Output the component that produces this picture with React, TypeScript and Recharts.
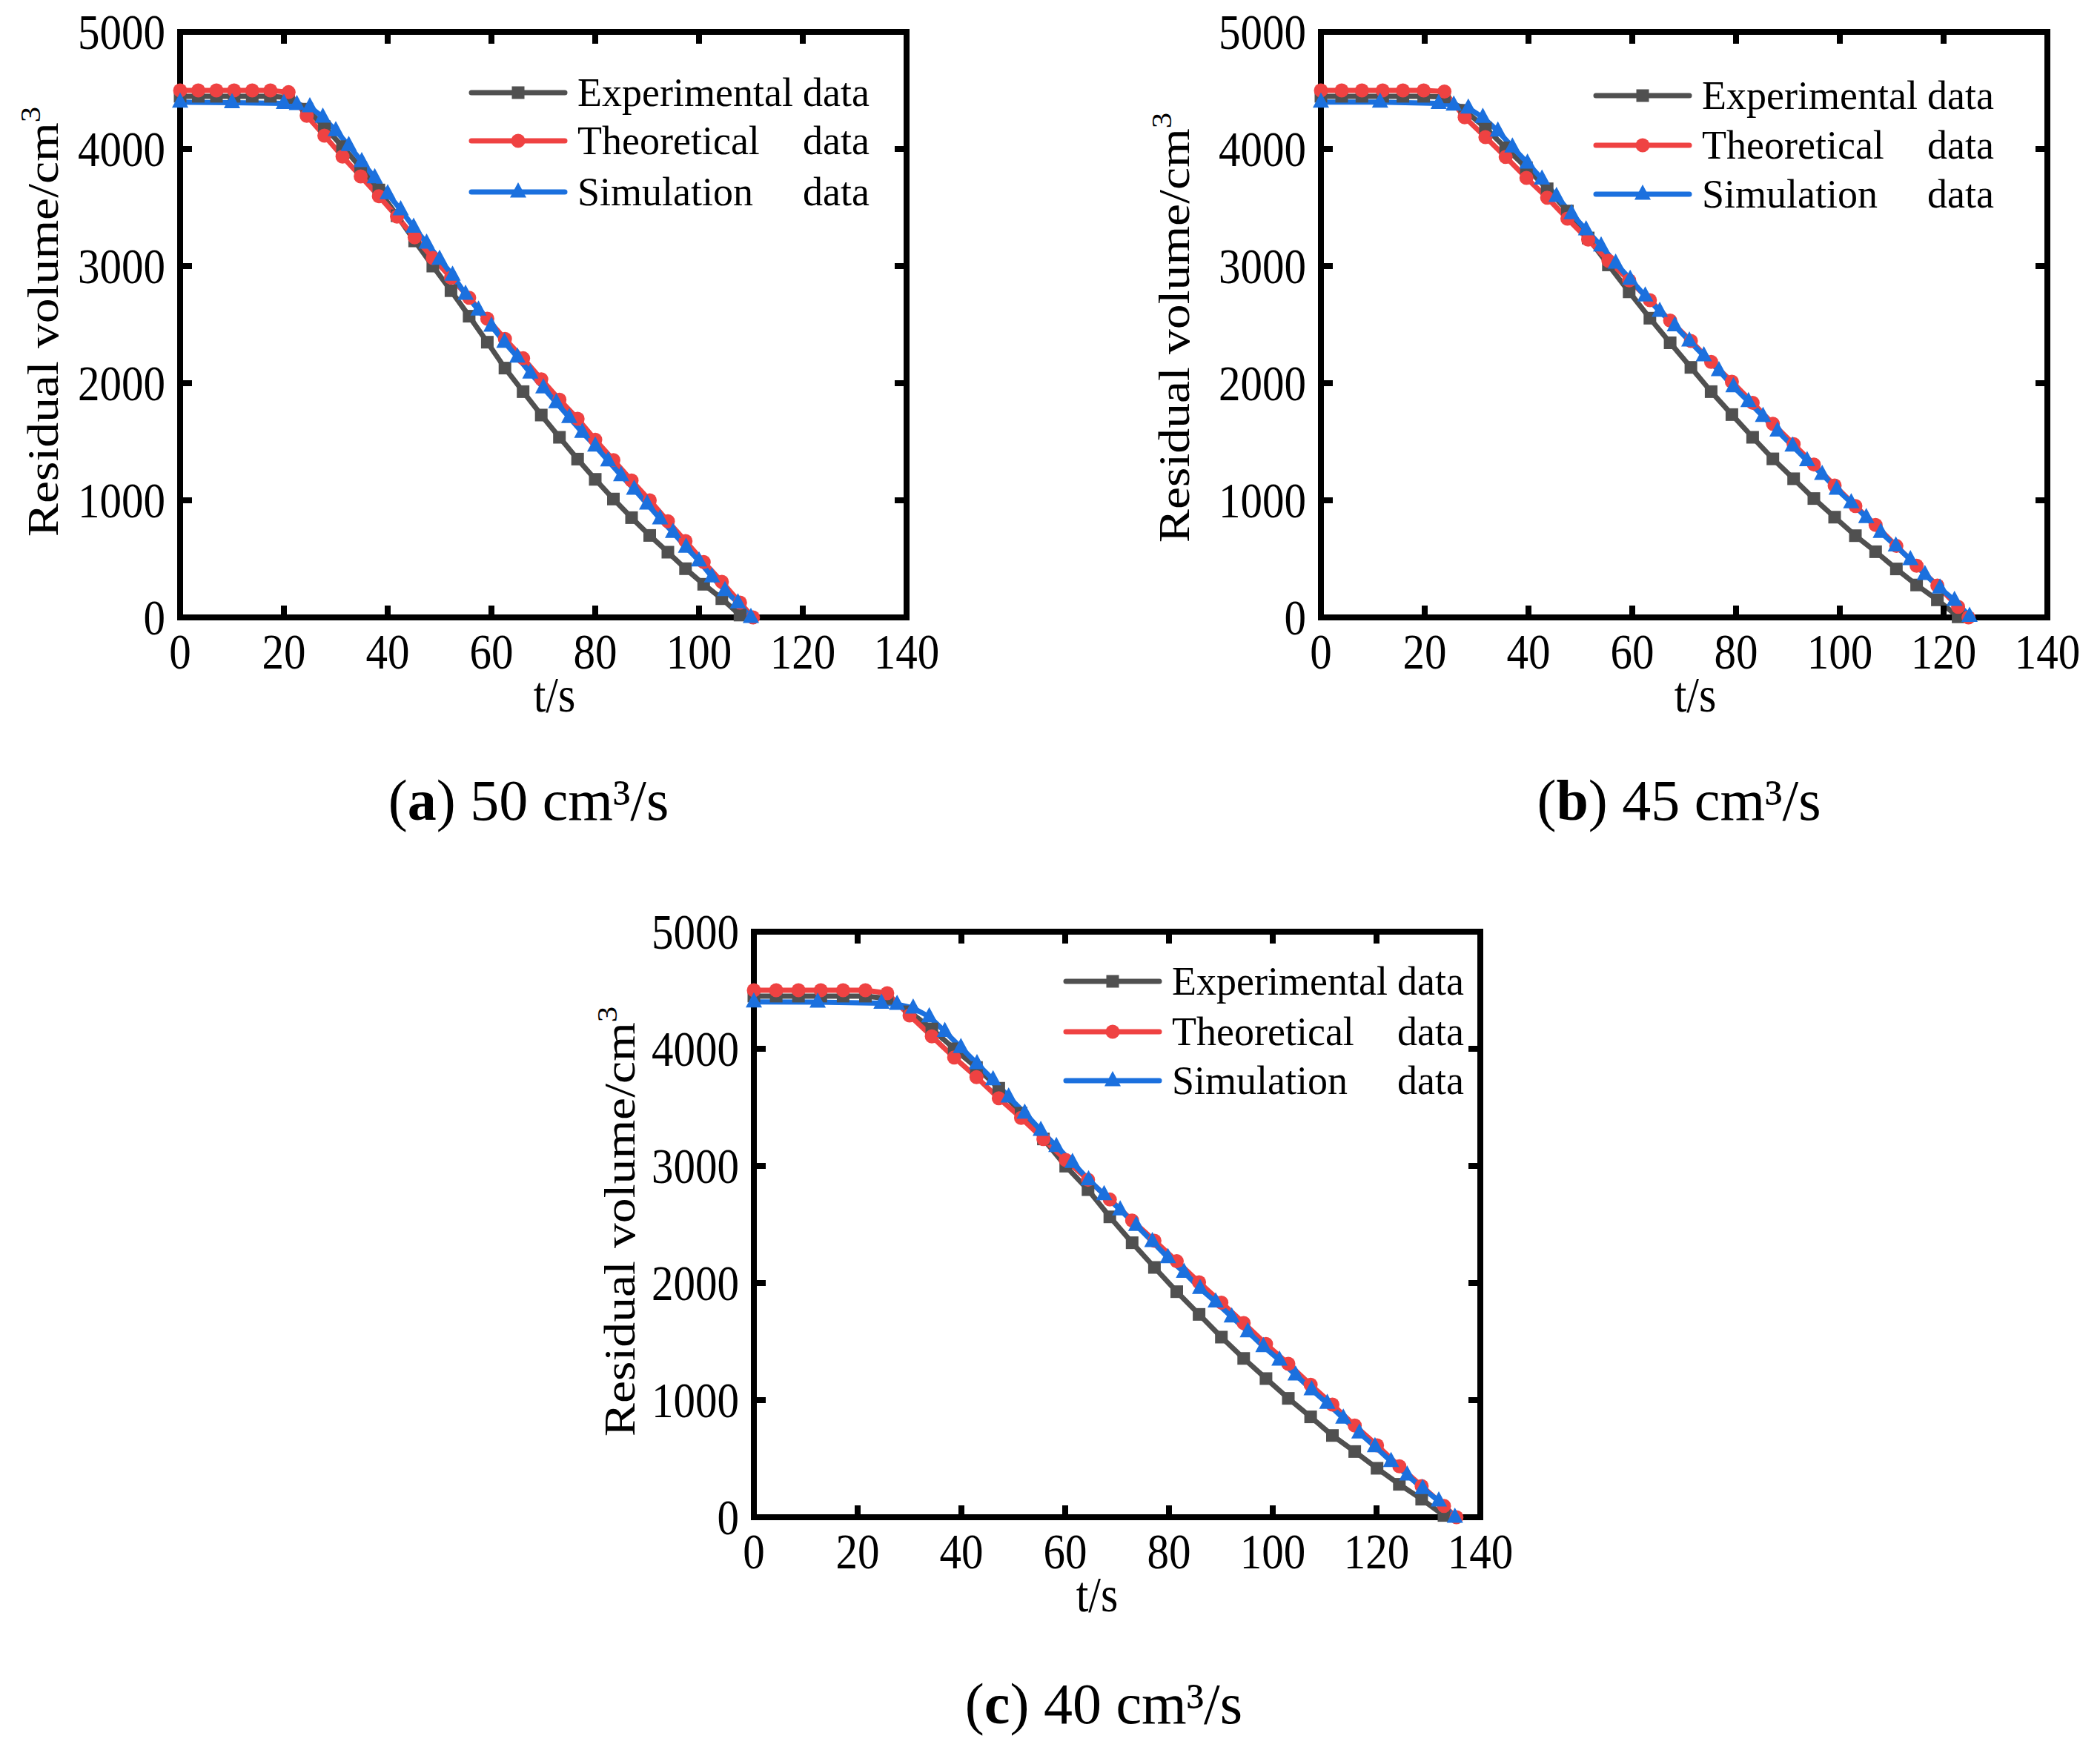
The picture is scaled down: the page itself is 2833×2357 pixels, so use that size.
import React from 'react';
import { LineChart, Line, XAxis, YAxis, ReferenceArea } from 'recharts';

// ---------------- data ----------------
const X_TICKS = [0, 20, 40, 60, 80, 100, 120, 140];
const Y_TICKS = [0, 1000, 2000, 3000, 4000, 5000];

// (a) 50 cm3/s
const EXP_A_T = [0, 3.5, 7, 10.4, 13.9, 17.4, 20.9, 24.4, 27.8, 31.3, 34.8, 38.3, 41.8, 45.2, 48.7, 52.2, 55.7, 59.2, 62.6, 66.1, 69.6, 73.1, 76.6, 80, 83.5, 87, 90.5, 94, 97.4, 100.9, 104.4, 107.9];
const EXP_A_V = [4450, 4450, 4450, 4450, 4450, 4450, 4440, 4340, 4190, 4020, 3840, 3650, 3430, 3215, 3000, 2790, 2572, 2350, 2129, 1928, 1728, 1538, 1352, 1179, 1011, 852, 700, 557, 416, 283, 160, 20];
const THEO_A_T = [0, 3.5, 7, 10.4, 13.9, 17.4, 20.9, 24.4, 27.8, 31.3, 34.8, 38.3, 41.8, 45.2, 48.7, 52.2, 55.7, 59.2, 62.6, 66.1, 69.6, 73.1, 76.6, 80, 83.5, 87, 90.5, 94, 97.4, 100.9, 104.4, 107.9, 110.4];
const THEO_A_V = [4500, 4500, 4500, 4500, 4500, 4500, 4485, 4283, 4114, 3935, 3766, 3597, 3422, 3245, 3070, 2901, 2730, 2551, 2378, 2213, 2034, 1859, 1696, 1517, 1344, 1169, 1000, 821, 652, 473, 304, 127, 0];
const SIM_A_T = [0, 10, 20, 22.5, 25, 27.5, 30, 32.5, 35, 37.5, 40, 42.5, 45, 47.5, 50, 52.5, 55, 57.5, 60, 62.5, 65, 67.5, 70, 72.5, 75, 77.5, 80, 82.5, 85, 87.5, 90, 92.5, 95, 97.5, 100, 102.5, 105, 107.5, 110];
const SIM_A_V = [4400, 4395, 4390, 4380, 4360, 4272, 4156, 4030, 3892, 3755, 3618, 3481, 3333, 3196, 3059, 2922, 2760, 2625, 2487, 2350, 2223, 2087, 1960, 1834, 1707, 1580, 1464, 1337, 1211, 1095, 968, 842, 726, 599, 483, 346, 230, 125, 0];

// (b) 45 cm3/s
const EXP_B_T = [0, 4, 7.9, 11.9, 15.8, 19.8, 23.8, 27.7, 31.7, 35.6, 39.6, 43.6, 47.5, 51.5, 55.4, 59.4, 63.4, 67.3, 71.3, 75.2, 79.2, 83.2, 87.1, 91.1, 95, 99, 103, 106.9, 110.9, 114.8, 118.8, 122.8];
const EXP_B_V = [4450, 4450, 4450, 4450, 4450, 4450, 4445, 4330, 4180, 4010, 3840, 3660, 3470, 3240, 3010, 2780, 2555, 2345, 2135, 1928, 1732, 1538, 1354, 1184, 1015, 856, 698, 561, 414, 277, 150, 5];
const THEO_B_T = [0, 4, 7.9, 11.9, 15.8, 19.8, 23.8, 27.7, 31.7, 35.6, 39.6, 43.6, 47.5, 51.5, 55.4, 59.4, 63.4, 67.3, 71.3, 75.2, 79.2, 83.2, 87.1, 91.1, 95, 99, 103, 106.9, 110.9, 114.8, 118.8, 122.8, 124.8];
const THEO_B_V = [4500, 4500, 4500, 4500, 4500, 4500, 4490, 4270, 4101, 3932, 3753, 3584, 3405, 3226, 3046, 2878, 2709, 2535, 2361, 2182, 2013, 1833, 1654, 1479, 1306, 1127, 951, 789, 610, 441, 272, 90, 0];
const SIM_B_T = [0, 11.4, 22.7, 25.6, 28.4, 31.2, 34.1, 36.9, 39.8, 42.6, 45.4, 48.3, 51.1, 54, 56.8, 59.6, 62.5, 65.3, 68.2, 71, 73.8, 76.7, 79.5, 82.4, 85.2, 88, 90.9, 93.7, 96.6, 99.4, 102.2, 105.1, 107.9, 110.8, 113.6, 116.4, 119.3, 122.1, 125];
const SIM_B_V = [4400, 4400, 4390, 4375, 4350, 4270, 4154, 4017, 3880, 3743, 3595, 3447, 3310, 3173, 3025, 2888, 2745, 2614, 2490, 2361, 2234, 2108, 1970, 1844, 1717, 1591, 1464, 1338, 1222, 1095, 979, 853, 726, 610, 494, 367, 251, 146, 10];

// (c) 40 cm3/s
const EXP_C_T = [0, 4.3, 8.6, 12.9, 17.2, 21.5, 25.7, 30, 34.3, 38.6, 42.9, 47.2, 51.5, 55.8, 60.1, 64.4, 68.6, 72.9, 77.2, 81.5, 85.8, 90.1, 94.4, 98.7, 103, 107.3, 111.5, 115.8, 120.1, 124.4, 128.7, 133];
const EXP_C_V = [4450, 4450, 4450, 4450, 4450, 4450, 4430, 4316, 4170, 4000, 3840, 3663, 3450, 3230, 2998, 2797, 2565, 2344, 2133, 1926, 1732, 1538, 1356, 1184, 1015, 857, 698, 561, 418, 281, 154, 15];
const THEO_C_T = [0, 4.3, 8.6, 12.9, 17.2, 21.5, 25.7, 30, 34.3, 38.6, 42.9, 47.2, 51.5, 55.8, 60.1, 64.4, 68.6, 72.9, 77.2, 81.5, 85.8, 90.1, 94.4, 98.7, 103, 107.3, 111.5, 115.8, 120.1, 124.4, 128.7, 133, 135.4];
const THEO_C_V = [4500, 4500, 4500, 4500, 4500, 4500, 4475, 4285, 4106, 3926, 3758, 3578, 3410, 3230, 3051, 2882, 2713, 2534, 2361, 2186, 2006, 1833, 1658, 1479, 1310, 1131, 962, 783, 614, 435, 266, 97, 0];
const SIM_C_T = [0, 12.3, 24.6, 27.6, 30.7, 33.8, 36.8, 39.9, 43, 46.1, 49.1, 52.2, 55.3, 58.3, 61.4, 64.5, 67.5, 70.6, 73.7, 76.8, 79.8, 82.9, 86, 89, 92.1, 95.2, 98.2, 101.3, 104.4, 107.5, 110.5, 113.6, 116.7, 119.7, 122.8, 125.9, 128.9, 132, 135.1];
const SIM_C_V = [4400, 4398, 4390, 4380, 4348, 4274, 4148, 4011, 3873, 3736, 3589, 3451, 3304, 3166, 3030, 2882, 2755, 2625, 2492, 2354, 2217, 2091, 1954, 1838, 1711, 1584, 1458, 1342, 1215, 1089, 973, 846, 720, 603, 477, 361, 245, 139, 0];

const SERIES_NAMES = ['Experimental', 'Theoretical', 'Simulation'];
const CAPTIONS = [
  { letter: 'a', rate: '50' },
  { letter: 'b', rate: '45' },
  { letter: 'c', rate: '40' },
];

// ---------------- styling / layout ----------------
const FONT = '"Liberation Serif", "Times New Roman", Times, serif';
const GRAY = '#505050';
const RED = '#ef4242';
const BLUE = '#1b70de';
const PLOT_W = 980;
const PLOT_H = 790;
const Y_AXIS_W = 200;
const X_AXIS_H = 100;
const M = { top: 40, right: 80, bottom: 100, left: 0 };
const CHART_W = M.left + Y_AXIS_W + PLOT_W + M.right;
const CHART_H = M.top + PLOT_H + X_AXIS_H + M.bottom;
const STRETCH = 1.13;
const LW = 7;

const zip = (ts: number[], vs: number[]) => ts.map((t, i) => ({ t, v: vs[i] }));

const PANELS = [
  {
    plotLeft: 243, plotTop: 43,
    exp: zip(EXP_A_T, EXP_A_V), theo: zip(THEO_A_T, THEO_A_V), sim: zip(SIM_A_T, SIM_A_V),
    legX: 393, legRows: [82, 147, 216], ylabX: 78, ylabDy: -4, tsDx: 15,
    capX: 713, capY: 1106, cap: CAPTIONS[0],
  },
  {
    plotLeft: 1782, plotTop: 43,
    exp: zip(EXP_B_T, EXP_B_V), theo: zip(THEO_B_T, THEO_B_V), sim: zip(SIM_B_T, SIM_B_V),
    legX: 371, legRows: [86, 153, 219], ylabX: 1604, ylabDy: 4, tsDx: 15,
    capX: 2265, capY: 1106, cap: CAPTIONS[1],
  },
  {
    plotLeft: 1017, plotTop: 1257,
    exp: zip(EXP_C_T, EXP_C_V), theo: zip(THEO_C_T, THEO_C_V), sim: zip(SIM_C_T, SIM_C_V),
    legX: 421, legRows: [67, 135, 201], ylabX: 856, ylabDy: -4, tsDx: -27,
    capX: 1489, capY: 2325, cap: CAPTIONS[2],
  },
];

// ---------------- marks ----------------
const SQ = 17;
const CR = 9.5;
const squareDot = (p: any) => {
  if (p.cx == null || p.cy == null) return <g key={`s${p.index}`} />;
  return <rect key={`s${p.index}`} x={p.cx - SQ / 2} y={p.cy - SQ / 2} width={SQ} height={SQ} fill={GRAY} />;
};
const circleDot = (p: any) => {
  if (p.cx == null || p.cy == null) return <g key={`c${p.index}`} />;
  return <circle key={`c${p.index}`} cx={p.cx} cy={p.cy} r={CR} fill={RED} />;
};
const triPts = (cx: number, cy: number) => `${cx},${cy - 13} ${cx - 11},${cy + 7.5} ${cx + 11},${cy + 7.5}`;
const triDot = (p: any) => {
  if (p.cx == null || p.cy == null) return <g key={`t${p.index}`} />;
  return <polygon key={`t${p.index}`} points={triPts(p.cx, p.cy)} fill={BLUE} />;
};

const XTick = (props: any) => {
  const { x, y, payload } = props;
  return (
    <g>
      <line x1={x} x2={x} y1={y} y2={y - 16} stroke="#000" strokeWidth={8} />
      <line x1={x} x2={x} y1={y - PLOT_H} y2={y - PLOT_H + 16} stroke="#000" strokeWidth={8} />
      <text
        transform={`translate(${x},${y + 69}) scale(1,${STRETCH})`}
        textAnchor="middle"
        fontFamily={FONT}
        fontSize={59}
        fill="#000"
      >
        {payload.value}
      </text>
    </g>
  );
};

const YTick = (props: any) => {
  const { x, y, payload } = props;
  return (
    <g>
      <line x1={x} x2={x + 16} y1={y} y2={y} stroke="#000" strokeWidth={8} />
      <line x1={x + PLOT_W} x2={x + PLOT_W - 16} y1={y} y2={y} stroke="#000" strokeWidth={8} />
      <text
        transform={`translate(${x - 20},${y + 22.5}) scale(1,${STRETCH})`}
        textAnchor="end"
        fontFamily={FONT}
        fontSize={59}
        fill="#000"
      >
        {payload.value}
      </text>
    </g>
  );
};

const Panel = ({ p }: { p: (typeof PANELS)[number] }) => (
  <div
    style={{
      position: 'absolute',
      left: p.plotLeft - M.left - Y_AXIS_W,
      top: p.plotTop - M.top,
      width: CHART_W,
      height: CHART_H,
    }}
  >
    <LineChart width={CHART_W} height={CHART_H} margin={M}>
      <XAxis
        type="number"
        dataKey="t"
        domain={[0, 140]}
        ticks={X_TICKS}
        interval={0}
        height={X_AXIS_H}
        axisLine={false}
        tickLine={false}
        tickSize={0}
        tickMargin={0}
        tick={(tp: any) => <XTick {...tp} />}
      />
      <YAxis
        type="number"
        domain={[0, 5000]}
        ticks={Y_TICKS}
        interval={0}
        width={Y_AXIS_W}
        axisLine={false}
        tickLine={false}
        tickSize={0}
        tickMargin={0}
        tick={(tp: any) => <YTick {...tp} />}
      />
      <Line
        data={p.exp}
        dataKey="v"
        type="linear"
        stroke={GRAY}
        strokeWidth={LW}
        strokeLinejoin="round"
        dot={squareDot}
        activeDot={false}
        isAnimationActive={false}
      />
      <Line
        data={p.theo}
        dataKey="v"
        type="linear"
        stroke={RED}
        strokeWidth={LW}
        strokeLinejoin="round"
        dot={circleDot}
        activeDot={false}
        isAnimationActive={false}
      />
      <Line
        data={p.sim}
        dataKey="v"
        type="linear"
        stroke={BLUE}
        strokeWidth={LW}
        strokeLinejoin="round"
        dot={triDot}
        activeDot={false}
        isAnimationActive={false}
      />
      <ReferenceArea
        x1={0}
        x2={140}
        y1={0}
        y2={5000}
        fill="none"
        fillOpacity={0}
        stroke="#000"
        strokeWidth={8}
        ifOverflow="visible"
      />
    </LineChart>
  </div>
);

const LegendAndLabels = ({ p }: { p: (typeof PANELS)[number] }) => {
  const lx = p.plotLeft + p.legX;
  const colors = [GRAY, RED, BLUE];
  return (
    <g>
      {p.legRows.map((r, i) => {
        const y = p.plotTop + r;
        const mx = lx + 63;
        return (
          <g key={i}>
            <line x1={lx} x2={lx + 126} y1={y} y2={y} stroke={colors[i]} strokeWidth={LW} strokeLinecap="round" />
            {i === 0 && <rect x={mx - SQ / 2} y={y - SQ / 2} width={SQ} height={SQ} fill={GRAY} />}
            {i === 1 && <circle cx={mx} cy={y} r={CR} fill={RED} />}
            {i === 2 && <polygon points={triPts(mx, y)} fill={BLUE} />}
            <text x={lx + 143} y={y + 18} fontFamily={FONT} fontSize={54} fill="#000">
              {SERIES_NAMES[i]}
            </text>
            <text x={lx + 447} y={y + 18} fontFamily={FONT} fontSize={54} fill="#000">
              data
            </text>
          </g>
        );
      })}
      <text
        transform={`translate(${p.ylabX},${p.plotTop + PLOT_H / 2 + p.ylabDy}) rotate(-90) scale(${STRETCH},1)`}
        textAnchor="middle"
        fontFamily={FONT}
        fontSize={60}
        fill="#000"
      >
        Residual volume/cm<tspan dy={-24} fontSize={38}>3</tspan>
      </text>
      <text
        transform={`translate(${p.plotLeft + PLOT_W / 2 + p.tsDx},${p.plotTop + PLOT_H + 127}) scale(1,${STRETCH})`}
        textAnchor="middle"
        fontFamily={FONT}
        fontSize={60}
        fill="#000"
      >
        t/s
      </text>
      <text x={p.capX} y={p.capY} textAnchor="middle" fontFamily={FONT} fontSize={78} fill="#000">
        (<tspan fontWeight="bold">{p.cap.letter}</tspan>) {p.cap.rate} cm³/s
      </text>
    </g>
  );
};

export default function App() {
  return (
    <div
      style={{
        position: 'absolute',
        left: 0,
        top: 0,
        width: 2833,
        height: 2357,
        overflow: 'hidden',
        background: '#fff',
      }}
    >
      {PANELS.map((p, i) => (
        <Panel key={i} p={p} />
      ))}
      <svg
        width={2833}
        height={2357}
        style={{ position: 'absolute', left: 0, top: 0, pointerEvents: 'none' }}
      >
        {PANELS.map((p, i) => (
          <LegendAndLabels key={i} p={p} />
        ))}
      </svg>
    </div>
  );
}
